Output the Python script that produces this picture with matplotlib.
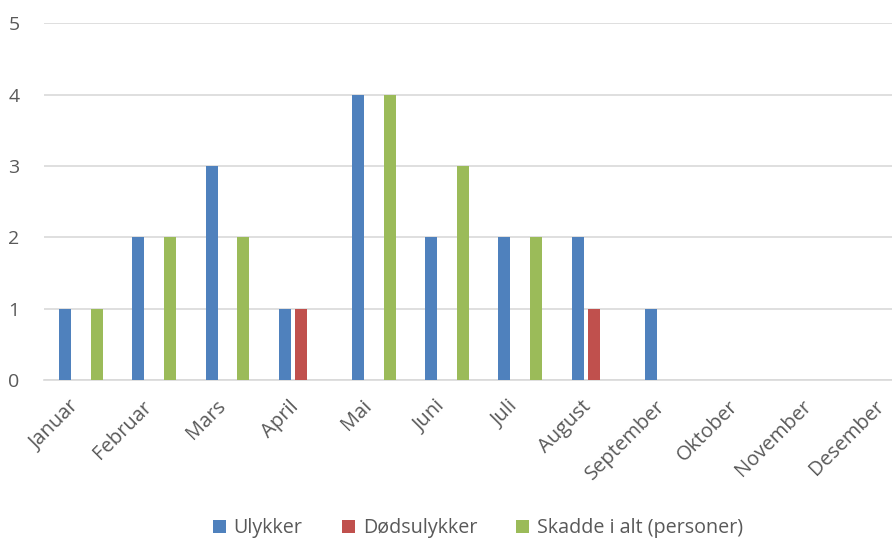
import numpy as np
import matplotlib.pyplot as plt
import matplotlib.transforms as mtransforms

# Data
maaneder = ["Januar", "Februar", "Mars", "April", "Mai", "Juni", "Juli",
            "August", "September", "Oktober", "November", "Desember"]
ulykker = [1, 2, 3, 1, 4, 2, 2, 2, 1, 0, 0, 0]
dodsulykker = [0, 0, 0, 1, 0, 0, 0, 1, 0, 0, 0, 0]
skadde = [1, 2, 2, 0, 4, 3, 2, 0, 0, 0, 0, 0]

serier = ["Ulykker", "Dødsulykker", "Skadde i alt (personer)"]
farger = ["#4F81BD", "#C0504D", "#9BBB59"]

plt.rcParams['font.family'] = ['Open Sans', 'DejaVu Sans']
tekstfarge = "#595959"
gridfarge = "#D9D9D9"

fig = plt.figure(figsize=(8.92, 5.41), dpi=100)
# plot area runs slightly past the right edge, as in the reference
ax = fig.add_axes([0.0498, 0.2976, 0.985, 0.659])

x = np.arange(len(maaneder))
bredde = 0.164
avstand = 0.218

for i, (verdier, navn, farge) in enumerate(zip([ulykker, dodsulykker, skadde], serier, farger)):
    ax.bar(x + (i - 1) * avstand, verdier, width=bredde, color=farge, label=navn, zorder=3)

ax.set_xlim(-0.5, len(maaneder) - 0.5)
ax.set_ylim(0, 5)
ax.set_yticks(range(6))
ax.yaxis.grid(True, color=gridfarge, linewidth=1.2, zorder=0)

for side in ["top", "right", "left"]:
    ax.spines[side].set_visible(False)
ax.spines["bottom"].set_color(gridfarge)
ax.spines["bottom"].set_linewidth(1.2)

ax.tick_params(axis="both", length=0, colors=tekstfarge, labelsize=14)
ax.tick_params(axis="y", pad=18)
ax.set_xticks(x)
ax.set_xticklabels(maaneder, rotation=45, ha="right", va="center", rotation_mode="anchor",
                   fontsize=14.5)
ax.tick_params(axis="x", pad=17)

# skyv månedsnavnene litt mot venstre så "Desember" ikke kuttes
forskyvning = mtransforms.ScaledTranslation(-5 / 100, 0, fig.dpi_scale_trans)
for etikett in ax.get_xticklabels():
    etikett.set_transform(etikett.get_transform() + forskyvning)

fig.legend(loc="center", bbox_to_anchor=(0.536, 0.024), ncol=3, frameon=False,
           fontsize=14.2, labelcolor=tekstfarge, handlelength=0.65, handleheight=0.65,
           handletextpad=0.4, columnspacing=2.0)

fig.savefig("out.png", dpi=100)
